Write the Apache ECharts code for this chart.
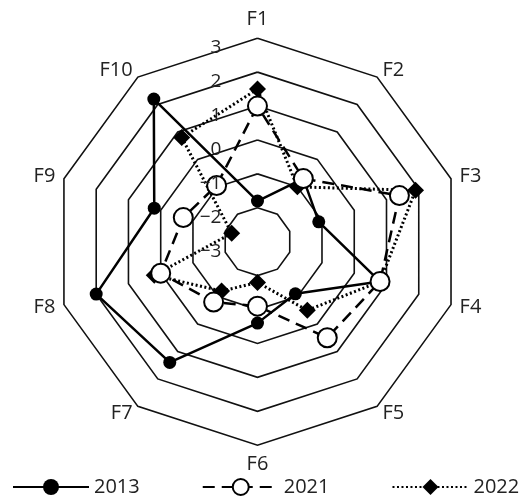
<!DOCTYPE html>
<html>
<head>
<meta charset="utf-8">
<script src="https://cdn.jsdelivr.net/npm/echarts@6/dist/echarts.min.js"></script>
<style>
  html, body { margin: 0; padding: 0; background: #fff; }
  #main { width: 526px; height: 504px; }
</style>
</head>
<body>
<div id="main"></div>
<script>
// 指标与数据（F1 在上方，顺时针排列）
var indicators = ['F1', 'F2', 'F3', 'F4', 'F5', 'F6', 'F7', 'F8', 'F9', 'F10'];
var years = ['2013', '2021', '2022'];
var data2013 = [-1.8, -0.7, -1.1, 0.8, -1.1, -0.6, 1.4, 2.0, 0.2, 2.2];
var data2021 = [1.0, -0.7, 1.4, 0.8, 0.5, -1.1, -0.8, 0.0, -0.7, -0.95];
var data2022 = [1.5, -1.0, 1.9, 0.8, -0.5, -1.8, -1.2, 0.2, -2.2, 0.8];
var axisMin = -3, axisMax = 3;

var fontFamily = 'Open Sans';
var chart = echarts.init(document.getElementById('main'), null, { renderer: 'canvas' });

// radar 默认逆时针，这里把第一个之后的顺序反过来 -> 顺时针
function clockwise(arr) {
  return [arr[0]].concat(arr.slice(1).reverse());
}

// 三种样式
var styles = {
  '2013': { symbol: 'circle', symbolSize: 13, line: { type: 'solid', width: 2.5 }, item: { color: '#000' } },
  '2021': { symbol: 'circle', symbolSize: 19, line: { type: [12, 7], width: 2.5 }, item: { color: '#fff', borderColor: '#000', borderWidth: 2 } },
  '2022': { symbol: 'diamond', symbolSize: 17, line: { type: [2, 2.5], width: 3 }, item: { color: '#000' } }
};

var radarBase = {
  center: ['48.95%', '47.96%'],
  radius: 203.5,
  startAngle: 90,
  splitNumber: 6,
  shape: 'polygon',
  nameGap: 9,
  axisLine: { show: false },
  axisTick: { show: false },
  axisLabel: { show: false },
  splitArea: { show: false }
};

// 底层：网格 + 指标名
var radarGrid = Object.assign({}, radarBase, {
  indicator: clockwise(indicators).map(function (name) {
    return { name: name, min: axisMin, max: axisMax };
  }),
  axisName: { color: '#222', fontSize: 20, fontFamily: fontFamily },
  splitLine: { lineStyle: { color: '#111', width: 1.6 } }
});

// 上层：只画刻度文字（压在点的上面）
var radarLabels = Object.assign({}, radarBase, {
  z: 10,
  indicator: clockwise(indicators).map(function (name, i) {
    var ind = { name: '', min: axisMin, max: axisMax };
    if (i === 0) {
      ind.axisLabel = {
        show: true,
        margin: 36,
        color: '#222',
        fontSize: 19,
        fontFamily: fontFamily,
        verticalAlign: 'top',
        formatter: function (v) { return String(v).replace('-', '\u2212'); }
      };
    }
    return ind;
  }),
  axisName: { show: false },
  splitLine: { show: false }
});

// 图例用的空折线系列
var legendSeries = years.map(function (y) {
  var s = styles[y];
  return {
    name: y,
    type: 'line',
    data: [],
    symbol: s.symbol,
    symbolSize: s.symbolSize,
    lineStyle: { color: '#000', type: s.line.type, width: s.line.width },
    itemStyle: s.item
  };
});

function radarSeries(y, values) {
  var s = styles[y];
  return {
    name: y,
    type: 'radar',
    radarIndex: 0,
    symbol: s.symbol,
    symbolSize: s.symbolSize,
    lineStyle: { color: '#000', type: s.line.type, width: s.line.width },
    itemStyle: s.item,
    data: [{ value: clockwise(values), name: y }]
  };
}

var option = {
  animation: false,
  legend: {
    data: years,
    left: 7,
    bottom: 2,
    itemWidth: 76,
    itemHeight: 20,
    itemGap: 62,
    textStyle: { color: '#222', fontSize: 20, fontFamily: fontFamily }
  },
  grid: { show: false, left: 0, top: 0, width: 1, height: 1 },
  xAxis: { show: false, type: 'category', data: [] },
  yAxis: { show: false, type: 'value' },
  radar: [radarGrid, radarLabels],
  series: legendSeries.concat([
    radarSeries('2013', data2013),
    radarSeries('2022', data2022),
    radarSeries('2021', data2021)
  ])
};

chart.setOption(option);
</script>
</body>
</html>
